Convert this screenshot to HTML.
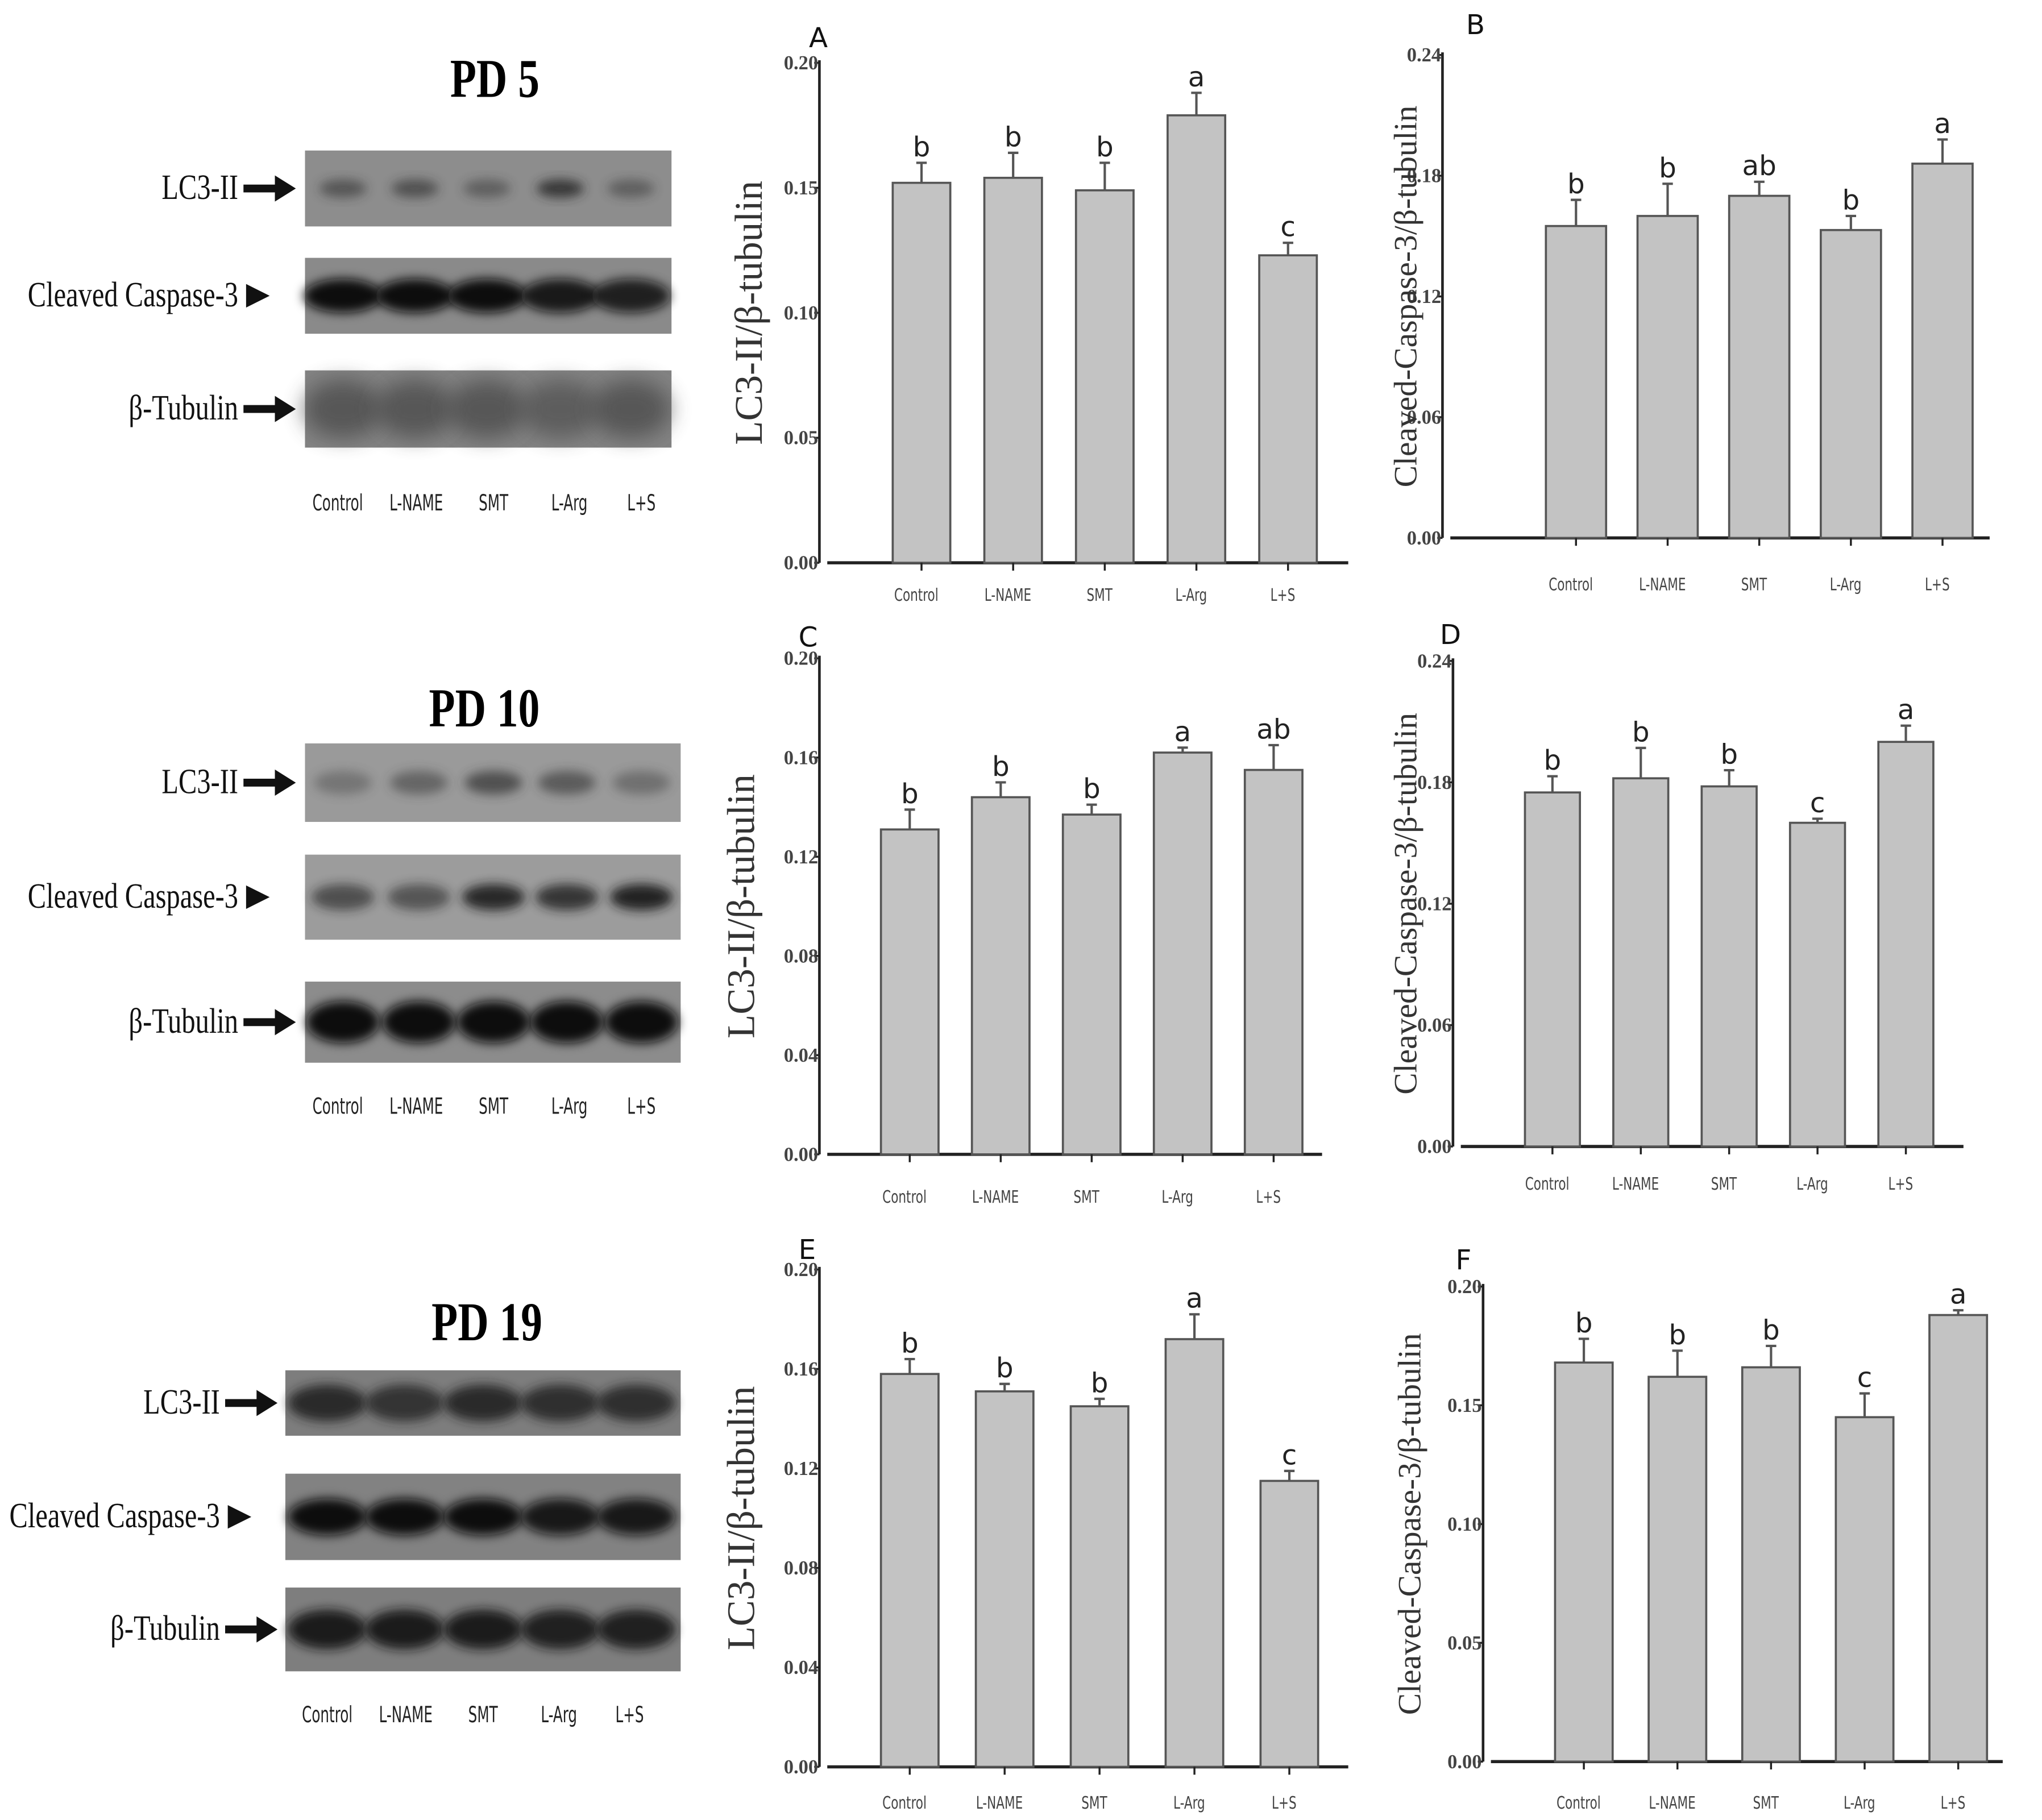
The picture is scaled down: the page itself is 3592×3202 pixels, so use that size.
<!DOCTYPE html>
<html><head><meta charset="utf-8"><style>
html,body{margin:0;padding:0;background:#fff}
svg{display:block}
</style></head><body>
<svg id="fig" xmlns="http://www.w3.org/2000/svg" width="3592" height="3202" viewBox="0 0 1560 1390.6">
<defs>
<filter id="blur3" x="-50%" y="-50%" width="200%" height="200%"><feGaussianBlur stdDeviation="4"/></filter>
<filter id="blur6" x="-50%" y="-50%" width="200%" height="200%"><feGaussianBlur stdDeviation="8"/></filter>
</defs>
<rect x="0" y="0" width="1560" height="1390.6" fill="#fff"/>
</svg>
<script>
const categories = ["Control","L-NAME","SMT","L-Arg","L+S"];
const valuesA = [0.152,0.154,0.149,0.179,0.123];
const errorsA = [0.008,0.010,0.011,0.009,0.005];
const lettersA = ["b","b","b","a","c"];
const ticksA = ["0.00","0.05","0.10","0.15","0.20"];
const valuesB = [0.155,0.160,0.170,0.153,0.186];
const errorsB = [0.013,0.016,0.007,0.007,0.012];
const lettersB = ["b","b","ab","b","a"];
const ticksB = ["0.00","0.06","0.12","0.18","0.24"];
const valuesC = [0.131,0.144,0.137,0.162,0.155];
const errorsC = [0.008,0.006,0.004,0.002,0.010];
const lettersC = ["b","b","b","a","ab"];
const ticksC = ["0.00","0.04","0.08","0.12","0.16","0.20"];
const valuesD = [0.175,0.182,0.178,0.160,0.200];
const errorsD = [0.008,0.015,0.008,0.002,0.008];
const lettersD = ["b","b","b","c","a"];
const ticksD = ["0.00","0.06","0.12","0.18","0.24"];
const valuesE = [0.158,0.151,0.145,0.172,0.115];
const errorsE = [0.006,0.003,0.003,0.010,0.004];
const lettersE = ["b","b","b","a","c"];
const ticksE = ["0.00","0.04","0.08","0.12","0.16","0.20"];
const valuesF = [0.168,0.162,0.166,0.145,0.188];
const errorsF = [0.010,0.011,0.009,0.010,0.002];
const lettersF = ["b","b","b","c","a"];
const ticksF = ["0.00","0.05","0.10","0.15","0.20"];

const NS="http://www.w3.org/2000/svg";
const svg=document.getElementById('fig');
function mk(tag,attrs,parent,text){
  const e=document.createElementNS(NS,tag);
  for(const k in attrs)e.setAttribute(k,attrs[k]);
  if(text!==undefined)e.textContent=text;
  (parent||svg).appendChild(e);return e;
}

function chart(cfg,vals,errs,lets,ticks){
  const g=mk('g',{});
  
  
  const max=parseFloat(ticks[ticks.length-1]);
  const y=v=>cfg.y0-(v/max)*(cfg.y0-cfg.yTop);
  const x=i=>cfg.x0+cfg.dx*i;
  const ya=mk('line',{x1:cfg.ax,y1:cfg.yTop-2,x2:cfg.ax,y2:cfg.y0,stroke:'#222','stroke-width':2},g);
  
  
  const xa=mk('line',{x1:cfg.ax+6,y1:cfg.y0,x2:cfg.xEnd,y2:cfg.y0,stroke:'#222','stroke-width':2.4},g);
  
  
  ticks.forEach(t=>{
    const v=parseFloat(t);
    mk('line',{x1:cfg.ax-4,y1:y(v),x2:cfg.ax,y2:y(v),stroke:'#222','stroke-width':1.5},g);
    const tl=mk('text',{x:cfg.ax-1,y:y(v)+5,'text-anchor':'end','font-family':'Liberation Serif, serif','font-weight':'bold','font-size':15,fill:'#444'},g,t);
    
    
  });
  vals.forEach((v,i)=>{
    const cx=x(i),top=y(v),eTop=y(v+errs[i]);
    const b=mk('rect',{x:cx-cfg.bw/2,y:top,width:cfg.bw,height:cfg.y0-top,fill:'#c3c3c3',stroke:'#555','stroke-width':1.6},g);
    
    
    const el=mk('path',{d:`M${cx},${top}V${eTop}M${cx-4},${eTop}H${cx+4}`,stroke:'#555','stroke-width':1.8,fill:'none'},g);
    
    
    const lt=mk('text',{x:cx,y:eTop-5,'text-anchor':'middle','font-family':'DejaVu Sans, sans-serif','font-size':21,fill:'#222'},g,lets[i]);
    
    
    mk('line',{x1:cx,y1:cfg.y0,x2:cx,y2:cfg.y0+6,stroke:'#222','stroke-width':1.5},g);
    const cl=mk('text',{x:0,y:0,'text-anchor':'middle','font-family':'DejaVu Sans Condensed, DejaVu Sans, sans-serif','font-size':13,fill:'#444',transform:`translate(${cx-4},${cfg.labY}) scale(0.8,1)`},g,categories[i]);
    
    
  });
  const yt=mk('text',{x:0,y:0,'text-anchor':'middle','font-family':'Liberation Serif, serif','font-size':cfg.yfs,fill:'#333',transform:`translate(${cfg.ylx},${(cfg.y0+cfg.yTop)/2}) rotate(-90)`},g,cfg.ylabel);
  
  
  const pl=mk('text',{x:cfg.lx,y:cfg.ly,'font-family':'DejaVu Sans, sans-serif','font-size':21,fill:'#111'},g,cfg.id);
  
  
}
const L1="LC3-II/β-tubulin", L2="Cleaved-Caspase-3/β-tubulin";
chart({id:'A',ax:626,y0:430,yTop:48,x0:704,dx:70,bw:44,xEnd:1030,labY:459,ylabel:L1,ylx:582,yfs:30,lx:618,ly:36},valuesA,errorsA,lettersA,ticksA);
chart({id:'B',ax:1102,y0:411,yTop:42,x0:1204,dx:70,bw:46,xEnd:1520,labY:451,ylabel:L2,ylx:1082,yfs:25,lx:1120,ly:26},valuesB,errorsB,lettersB,ticksB);
chart({id:'C',ax:626,y0:882,yTop:503,x0:695,dx:69.5,bw:44,xEnd:1010,labY:919,ylabel:L1,ylx:576,yfs:30,lx:610,ly:494},valuesC,errorsC,lettersC,ticksC);
chart({id:'D',ax:1110,y0:876,yTop:505,x0:1186,dx:67.5,bw:42,xEnd:1500,labY:909,ylabel:L2,ylx:1082,yfs:25,lx:1100,ly:492},valuesD,errorsD,lettersD,ticksD);
chart({id:'E',ax:626,y0:1350,yTop:970,x0:695,dx:72.5,bw:44,xEnd:1030,labY:1382,ylabel:L1,ylx:576,yfs:30,lx:610,ly:962},valuesE,errorsE,lettersE,ticksE);
chart({id:'F',ax:1133,y0:1346,yTop:983,x0:1210,dx:71.5,bw:44,xEnd:1530,labY:1382,ylabel:L2,ylx:1085,yfs:25,lx:1112,ly:970},valuesF,errorsF,lettersF,ticksF);

function blotPanel(cfg){
  const g=mk('g',{});
  
  
  const t=mk('text',{x:0,y:0,'text-anchor':'middle','font-family':'Liberation Serif, serif','font-weight':'bold','font-size':42,fill:'#000',transform:`translate(${cfg.tx},${cfg.ty}) scale(0.78,1)`},g,cfg.title);
  
  
  cfg.rows.forEach(r=>{
    const rg=mk('g',{},g);
    
    
    mk('rect',{x:cfg.bx,y:r.y,width:cfg.bw,height:r.h,fill:r.bg},rg);
    const cy=r.y+r.h/2;
    cfg.lanes.forEach((lx,i)=>{
      mk('ellipse',{cx:lx,cy:cy,rx:r.rx,ry:r.ry,fill:r.band,opacity:r.op[i],filter:r.soft?'url(#blur6)':'url(#blur3)'},rg);
    });
    const lab=mk('text',{x:0,y:0,'text-anchor':'end','font-family':'Liberation Serif, serif','font-size':27,fill:'#111',transform:`translate(${cfg.lblX},${cy+8}) scale(0.78,1)`},g,r.label);
    
    
    const ax=cfg.lblX+4;
    if(r.tri){
      mk('path',{d:`M${ax+2},${cy-9}L${ax+20},${cy}L${ax+2},${cy+9}Z`,fill:'#111'},g);
    }else{
      mk('path',{d:`M${ax},${cy-3}H${ax+24}V${cy-10}L${ax+40},${cy}L${ax+24},${cy+10}V${cy+3}H${ax}Z`,fill:'#111'},g);
    }
  });
  cfg.lanes.forEach((lx,i)=>{
    const l=mk('text',{x:0,y:0,'text-anchor':'middle','font-family':'DejaVu Sans Condensed, DejaVu Sans, sans-serif','font-size':17,fill:'#222',transform:`translate(${cfg.labXs[i]},${cfg.labY}) scale(0.7,1)`},g,categories[i]);
    
    
  });
}
blotPanel({name:'pd5',title:'PD 5',tx:378,ty:74,bx:233,bw:280,lblX:182,lanes:[262,317,372,428,482],labXs:[258,318,377,435,490],labY:390,
 rows:[
  {label:'LC3-II',y:115,h:58,bg:'#8d8d8d',band:'#2a2a2a',rx:18,ry:7,op:[0.55,0.6,0.45,0.85,0.45]},
  {label:'Cleaved Caspase-3',y:197,h:58,bg:'#8a8a8a',band:'#0e0e0e',rx:30,ry:13,op:[1,1,1,0.9,0.85],tri:true},
  {label:'β-Tubulin',y:283,h:59,bg:'#838383',band:'#444',rx:30,ry:22,op:[0.7,0.7,0.7,0.6,0.7],soft:true}
 ]});
blotPanel({name:'pd10',title:'PD 10',tx:370,ty:555,bx:233,bw:287,lblX:182,lanes:[262,320,377,433,490],labXs:[258,318,377,435,490],labY:851,
 rows:[
  {label:'LC3-II',y:568,h:60,bg:'#9a9a9a',band:'#333',rx:22,ry:9,op:[0.35,0.5,0.7,0.6,0.4]},
  {label:'Cleaved Caspase-3',y:653,h:65,bg:'#9c9c9c',band:'#1a1a1a',rx:24,ry:10,op:[0.6,0.55,0.9,0.8,0.95],tri:true},
  {label:'β-Tubulin',y:750,h:62,bg:'#8c8c8c',band:'#0c0c0c',rx:28,ry:16,op:[1,1,1,1,1]}
 ]});
blotPanel({name:'pd19',title:'PD 19',tx:372,ty:1024,bx:218,bw:302,lblX:168,lanes:[250,309,369,428,486],labXs:[250,310,369,427,481],labY:1316,
 rows:[
  {label:'LC3-II',y:1047,h:50,bg:'#7d7d7d',band:'#202020',rx:30,ry:14,op:[0.9,0.8,0.9,0.85,0.85]},
  {label:'Cleaved Caspase-3',y:1126,h:66,bg:'#828282',band:'#0e0e0e',rx:30,ry:14,op:[1,1,1,0.9,0.9],tri:true},
  {label:'β-Tubulin',y:1213,h:64,bg:'#7e7e7e',band:'#161616',rx:30,ry:15,op:[0.95,0.95,0.95,0.9,0.9]}
 ]});
</script>
</body></html>
